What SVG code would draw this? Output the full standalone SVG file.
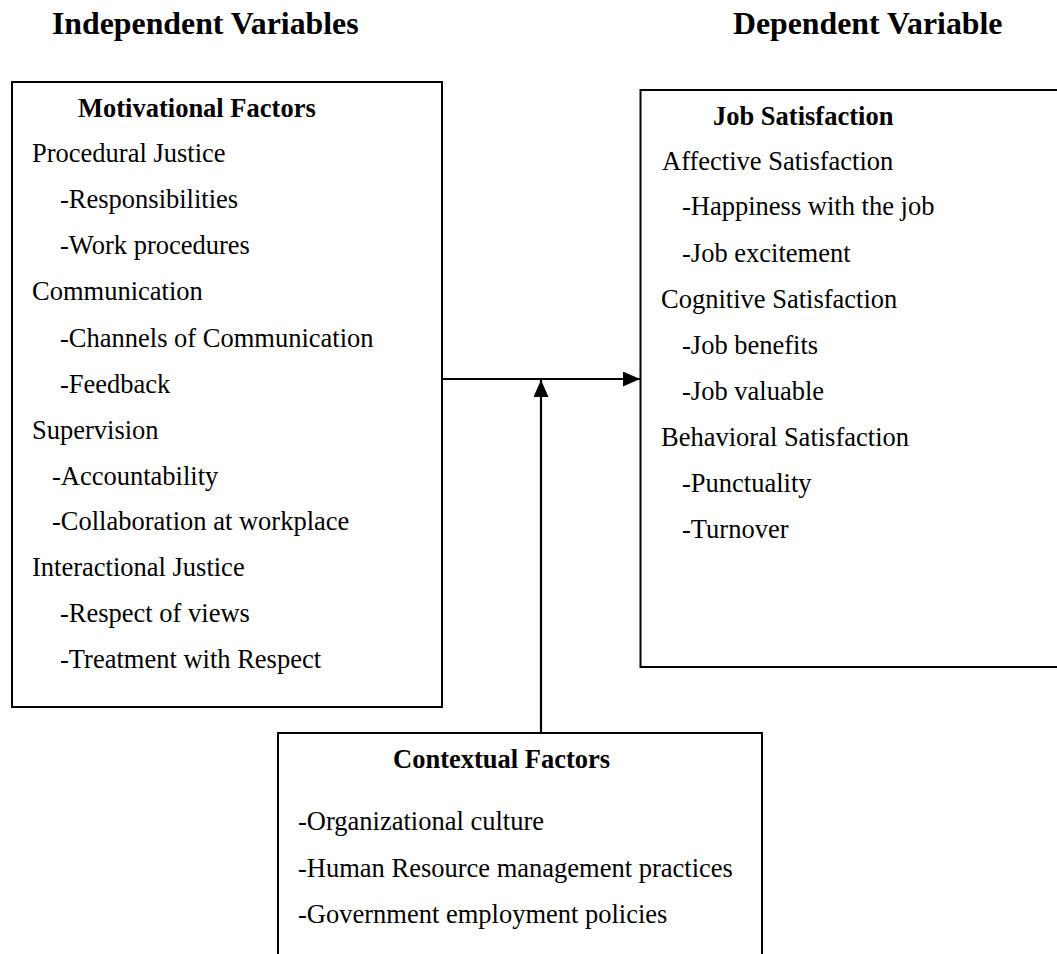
<svg xmlns="http://www.w3.org/2000/svg" width="1057" height="954" viewBox="0 0 1057 954">
<style>
.box{fill:#fff;stroke:#000;stroke-width:2}
.t{font-family:"Liberation Serif","Times New Roman",serif;font-size:26.5px;fill:#000}
.b{font-weight:bold}
.h{font-family:"Liberation Serif","Times New Roman",serif;font-size:31.8px;font-weight:bold;fill:#000}
.c{stroke:#000;stroke-width:2.2;fill:none}
</style>
<defs>
<marker id="ah" viewBox="0 0 17 15" refX="17" refY="7.5" markerWidth="17" markerHeight="15" markerUnits="userSpaceOnUse" orient="auto">
<path d="M0,0 L17,7.5 L0,15 Z" fill="#000"/>
</marker>
</defs>
<rect width="1057" height="954" fill="#fff"/>
<text class="h" x="52" y="34">Independent Variables</text>
<text class="h" x="733" y="34">Dependent Variable</text>
<g id="motivational">
<rect class="box" x="12" y="82" width="430" height="625"/>
<text class="t b" x="78" y="117">Motivational Factors</text>
<text class="t" x="32" y="162">Procedural Justice</text>
<text class="t" x="60" y="208">-Responsibilities</text>
<text class="t" x="60" y="254">-Work procedures</text>
<text class="t" x="32" y="300">Communication</text>
<text class="t" x="60" y="347">-Channels of Communication</text>
<text class="t" x="60" y="393">-Feedback</text>
<text class="t" x="32" y="439">Supervision</text>
<text class="t" x="52" y="485">-Accountability</text>
<text class="t" x="52" y="530">-Collaboration at workplace</text>
<text class="t" x="32" y="576">Interactional Justice</text>
<text class="t" x="60" y="622">-Respect of views</text>
<text class="t" x="60" y="668">-Treatment with Respect</text>
</g>
<g id="jobsatisfaction">
<rect class="box" x="640.5" y="90" width="430" height="577"/>
<text class="t b" x="713" y="125">Job Satisfaction</text>
<text class="t" x="662" y="170">Affective Satisfaction</text>
<text class="t" x="682" y="215">-Happiness with the job</text>
<text class="t" x="682" y="262">-Job excitement</text>
<text class="t" x="661" y="308">Cognitive Satisfaction</text>
<text class="t" x="682" y="354">-Job benefits</text>
<text class="t" x="682" y="400">-Job valuable</text>
<text class="t" x="661" y="446">Behavioral Satisfaction</text>
<text class="t" x="682" y="492">-Punctuality</text>
<text class="t" x="682" y="538">-Turnover</text>
</g>
<g id="contextual">
<rect class="box" x="278" y="733" width="484" height="240"/>
<text class="t b" x="393" y="768">Contextual Factors</text>
<text class="t" x="298" y="830">-Organizational culture</text>
<text class="t" x="298" y="877">-Human Resource management practices</text>
<text class="t" x="298" y="923">-Government employment policies</text>
</g>
<g id="connectors">
<line class="c" x1="442" y1="379" x2="640" y2="379" marker-end="url(#ah)"/>
<line class="c" x1="541" y1="733" x2="541" y2="380" marker-end="url(#ah)"/>
</g>
</svg>
